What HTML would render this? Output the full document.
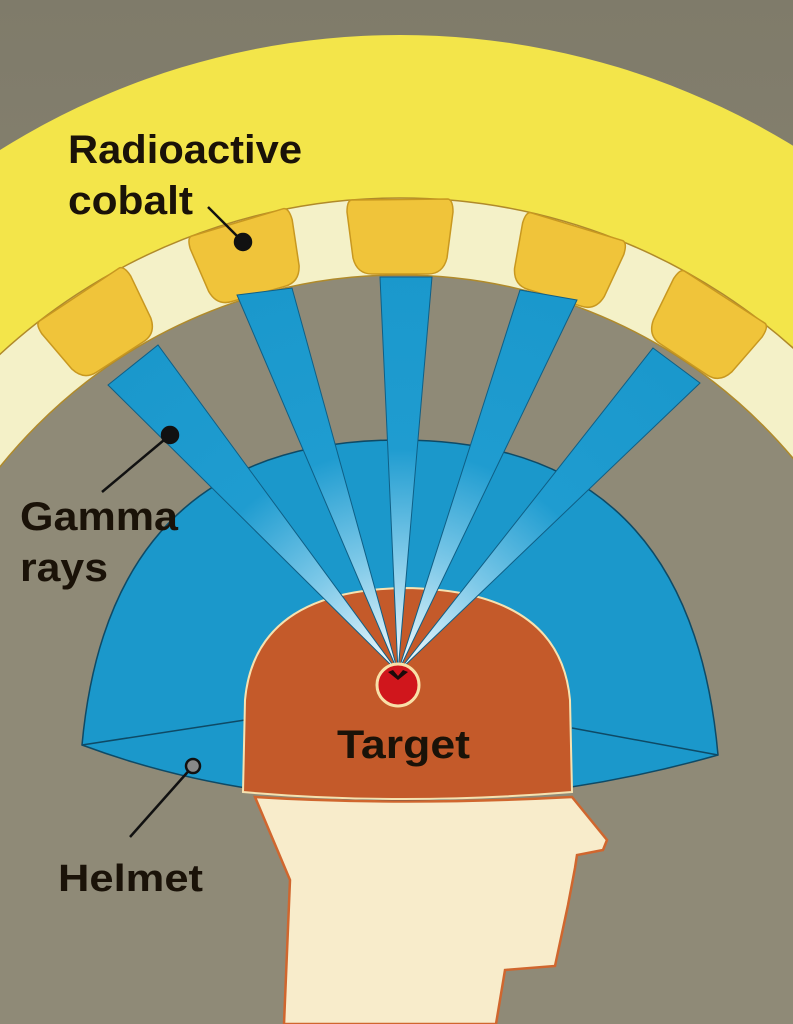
<!DOCTYPE html>
<html><head><meta charset="utf-8"><style>
html,body{margin:0;padding:0;background:#8e8975;overflow:hidden;width:793px;height:1024px;}
svg{display:block}
text{font-family:"Liberation Sans",sans-serif;font-weight:bold;fill:#1a1208;}
</style></head><body>
<svg width="793" height="1024" viewBox="0 0 793 1024" xmlns="http://www.w3.org/2000/svg">
<defs>
<linearGradient id="bg" x1="0" y1="0" x2="0" y2="1">
<stop offset="0" stop-color="#7f7b6a"/><stop offset="1" stop-color="#958f7c"/>
</linearGradient>
<radialGradient id="beam" cx="398" cy="680" r="420" gradientUnits="userSpaceOnUse">
<stop offset="0" stop-color="#ffffff"/><stop offset="0.3" stop-color="#7cc8e8"/><stop offset="0.55" stop-color="#1f9cd0"/><stop offset="1" stop-color="#1a98cc"/>
</radialGradient>
<path id="blk" d="M352 200 L448 199 Q453 200 453 212 L447 258 Q443 274 428 274 L372 274 Q357 274 353 258 L347 212 Q347 200 352 200Z"/>
</defs>
<rect width="793" height="1024" fill="url(#bg)"/>
<circle cx="400" cy="788" r="753" fill="#f3e54a"/>
<circle cx="400" cy="788" r="590" fill="#f4f1c8" stroke="#b08a2a" stroke-width="1.5"/>
<circle cx="400" cy="788" r="513" fill="#8f8a77" stroke="#b08a2a" stroke-width="1.5"/>
<g fill="#f0c43a" stroke="#c89820" stroke-width="1.5">
<use href="#blk" transform="rotate(-33 400 788)"/>
<use href="#blk" transform="rotate(-16 400 788)"/>
<use href="#blk" transform="rotate(0 400 788)"/>
<use href="#blk" transform="rotate(17.5 400 788)"/>
<use href="#blk" transform="rotate(33.5 400 788)"/>
</g>
<path d="M82 745 Q110 440 400 440 Q690 440 718 755 Q560 800 400 800 Q230 800 82 745Z" fill="#1b98cb" stroke="#0e4a66" stroke-width="1.5"/>
<path d="M82 745 L245 720 M572 728 L718 755" stroke="#0e4a66" stroke-width="1.5" fill="none"/>
<path d="M243 792 L245 700 Q255 590 405 588 Q560 590 570 700 L572 792 Q400 806 243 792Z" fill="#c45a2a" stroke="#f6e2b0" stroke-width="2"/>
<g fill="url(#beam)" stroke="#0f5f86" stroke-width="1">
<polygon points="108,385 158,345 398,672"/>
<polygon points="237,295 292,288 398,672"/>
<polygon points="380,277 432,277 398,672"/>
<polygon points="520,290 577,300 398,672"/>
<polygon points="653,348 700,383 398,672"/>
</g>
<path d="M255 797 L290 880 L284 1024 L496 1024 L505 970 L555 966 L568 905 L575 868 L577 855 L603 850 L607 840 L572 797 Q400 806 255 797Z" fill="#f8eccb" stroke="#d0662e" stroke-width="2.5"/>
<circle cx="398" cy="685" r="21" fill="#d0161c" stroke="#f8e0a8" stroke-width="3"/>
<path d="M388 672 L398 680 L408 672 L403 670 L398 676 L393 670Z" fill="#1a0a0a"/>
<g stroke="#111" stroke-width="2.5" fill="#111">
<line x1="208" y1="207" x2="243" y2="242"/><circle cx="243" cy="242" r="8"/>
<line x1="102" y1="492" x2="170" y2="435"/><circle cx="170" cy="435" r="8"/>
<line x1="130" y1="837" x2="193" y2="766"/><circle cx="193" cy="766" r="7" fill="#888"/>
</g>
<text x="68" y="163" font-size="40" textLength="234" lengthAdjust="spacingAndGlyphs">Radioactive</text>
<text x="68" y="214" font-size="40" textLength="125" lengthAdjust="spacingAndGlyphs">cobalt</text>
<text x="20" y="530" font-size="40" textLength="158" lengthAdjust="spacingAndGlyphs">Gamma</text>
<text x="20" y="581" font-size="40" textLength="88" lengthAdjust="spacingAndGlyphs">rays</text>
<text x="337" y="758" font-size="40" textLength="133" lengthAdjust="spacingAndGlyphs">Target</text>
<text x="58" y="891" font-size="38" textLength="145" lengthAdjust="spacingAndGlyphs">Helmet</text>
</svg>
</body></html>
